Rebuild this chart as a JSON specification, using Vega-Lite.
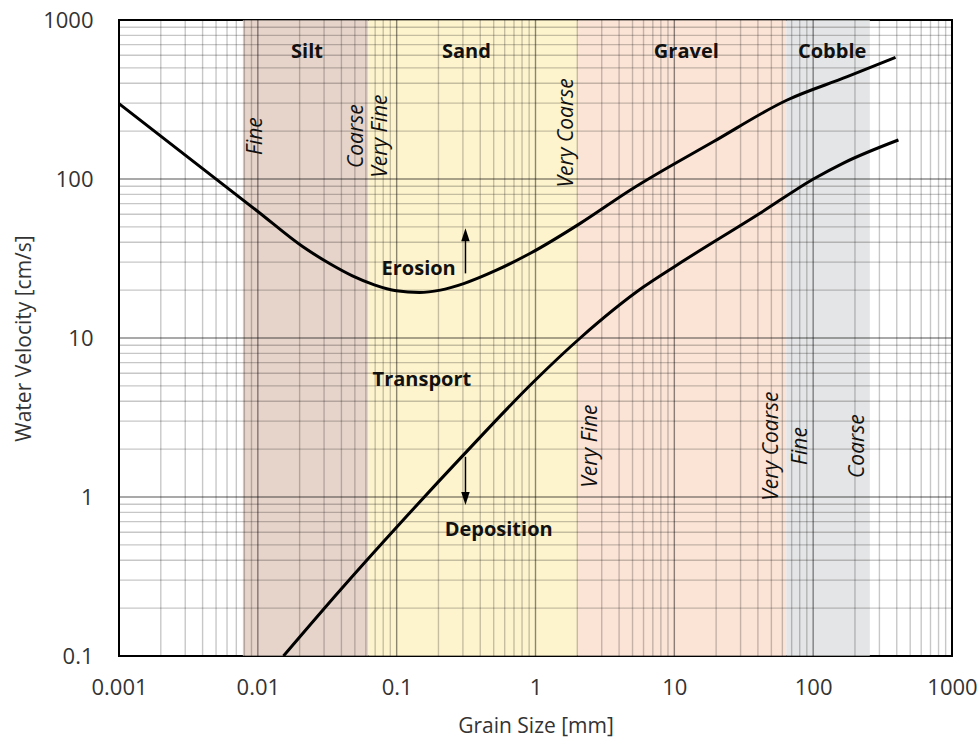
{
  "$schema": "https://vega.github.io/schema/vega-lite/v6.json",
  "width": 833,
  "height": 636,
  "autosize": {"type": "none"},
  "padding": {"left": 119, "top": 20, "right": 27, "bottom": 84},
  "background": "white",
  "config": {
    "font": "Open Sans",
    "view": {"stroke": "#000", "strokeWidth": 2},
    "axis": {
      "ticks": false,
      "domain": false,
      "grid": false,
      "labelOverlap": false,
      "labelFlush": false
    }
  },
  "datasets": {
    "bands": [
      {"name": "Silt", "x0": 0.0078, "x1": 0.0625},
      {"name": "Sand", "x0": 0.0625, "x1": 2},
      {"name": "Gravel", "x0": 2, "x1": 64},
      {"name": "Cobble", "x0": 64, "x1": 256}
    ],
    "xgrid": [
      {"g": 0.001, "kind": "major"}, {"g": 0.002, "kind": "minor"}, {"g": 0.003, "kind": "minor"}, {"g": 0.004, "kind": "minor"}, {"g": 0.005, "kind": "minor"}, {"g": 0.006, "kind": "minor"}, {"g": 0.007, "kind": "minor"}, {"g": 0.008, "kind": "minor"}, {"g": 0.009, "kind": "minor"},
      {"g": 0.01, "kind": "major"}, {"g": 0.02, "kind": "minor"}, {"g": 0.03, "kind": "minor"}, {"g": 0.04, "kind": "minor"}, {"g": 0.05, "kind": "minor"}, {"g": 0.06, "kind": "minor"}, {"g": 0.07, "kind": "minor"}, {"g": 0.08, "kind": "minor"}, {"g": 0.09, "kind": "minor"},
      {"g": 0.1, "kind": "major"}, {"g": 0.2, "kind": "minor"}, {"g": 0.3, "kind": "minor"}, {"g": 0.4, "kind": "minor"}, {"g": 0.5, "kind": "minor"}, {"g": 0.6, "kind": "minor"}, {"g": 0.7, "kind": "minor"}, {"g": 0.8, "kind": "minor"}, {"g": 0.9, "kind": "minor"},
      {"g": 1, "kind": "major"}, {"g": 2, "kind": "minor"}, {"g": 3, "kind": "minor"}, {"g": 4, "kind": "minor"}, {"g": 5, "kind": "minor"}, {"g": 6, "kind": "minor"}, {"g": 7, "kind": "minor"}, {"g": 8, "kind": "minor"}, {"g": 9, "kind": "minor"},
      {"g": 10, "kind": "major"}, {"g": 20, "kind": "minor"}, {"g": 30, "kind": "minor"}, {"g": 40, "kind": "minor"}, {"g": 50, "kind": "minor"}, {"g": 60, "kind": "minor"}, {"g": 70, "kind": "minor"}, {"g": 80, "kind": "minor"}, {"g": 90, "kind": "minor"},
      {"g": 100, "kind": "major"}, {"g": 200, "kind": "minor"}, {"g": 300, "kind": "minor"}, {"g": 400, "kind": "minor"}, {"g": 500, "kind": "minor"}, {"g": 600, "kind": "minor"}, {"g": 700, "kind": "minor"}, {"g": 800, "kind": "minor"}, {"g": 900, "kind": "minor"},
      {"g": 1000, "kind": "major"}
    ],
    "ygrid": [
      {"g": 0.1, "kind": "major"}, {"g": 0.2, "kind": "minor"}, {"g": 0.3, "kind": "minor"}, {"g": 0.4, "kind": "minor"}, {"g": 0.5, "kind": "minor"}, {"g": 0.6, "kind": "minor"}, {"g": 0.7, "kind": "minor"}, {"g": 0.8, "kind": "minor"}, {"g": 0.9, "kind": "minor"},
      {"g": 1, "kind": "major"}, {"g": 2, "kind": "minor"}, {"g": 3, "kind": "minor"}, {"g": 4, "kind": "minor"}, {"g": 5, "kind": "minor"}, {"g": 6, "kind": "minor"}, {"g": 7, "kind": "minor"}, {"g": 8, "kind": "minor"}, {"g": 9, "kind": "minor"},
      {"g": 10, "kind": "major"}, {"g": 20, "kind": "minor"}, {"g": 30, "kind": "minor"}, {"g": 40, "kind": "minor"}, {"g": 50, "kind": "minor"}, {"g": 60, "kind": "minor"}, {"g": 70, "kind": "minor"}, {"g": 80, "kind": "minor"}, {"g": 90, "kind": "minor"},
      {"g": 100, "kind": "major"}, {"g": 200, "kind": "minor"}, {"g": 300, "kind": "minor"}, {"g": 400, "kind": "minor"}, {"g": 500, "kind": "minor"}, {"g": 600, "kind": "minor"}, {"g": 700, "kind": "minor"}, {"g": 800, "kind": "minor"}, {"g": 900, "kind": "minor"},
      {"g": 1000, "kind": "major"}
    ],
    "curves": [
      {"curve": "Erosion", "size": 0.001, "v": 298},
      {"curve": "Erosion", "size": 0.01, "v": 62.5},
      {"curve": "Erosion", "size": 0.021, "v": 37.6},
      {"curve": "Erosion", "size": 0.0333, "v": 29.2},
      {"curve": "Erosion", "size": 0.048, "v": 24.6},
      {"curve": "Erosion", "size": 0.069, "v": 21.6},
      {"curve": "Erosion", "size": 0.0995, "v": 19.8},
      {"curve": "Erosion", "size": 0.146, "v": 19.3},
      {"curve": "Erosion", "size": 0.2065, "v": 20.0},
      {"curve": "Erosion", "size": 0.304, "v": 22.0},
      {"curve": "Erosion", "size": 0.528, "v": 26.8},
      {"curve": "Erosion", "size": 0.918, "v": 34.1},
      {"curve": "Erosion", "size": 2.1, "v": 52.6},
      {"curve": "Erosion", "size": 4.83, "v": 85.3},
      {"curve": "Erosion", "size": 19.2, "v": 172},
      {"curve": "Erosion", "size": 65, "v": 314},
      {"curve": "Erosion", "size": 176, "v": 440},
      {"curve": "Erosion", "size": 392, "v": 582},
      {"curve": "Deposition", "size": 0.0153, "v": 0.1},
      {"curve": "Deposition", "size": 0.0393, "v": 0.26},
      {"curve": "Deposition", "size": 0.1065, "v": 0.686},
      {"curve": "Deposition", "size": 0.303, "v": 1.84},
      {"curve": "Deposition", "size": 0.966, "v": 5.29},
      {"curve": "Deposition", "size": 2.1, "v": 10.0},
      {"curve": "Deposition", "size": 5.98, "v": 20.9},
      {"curve": "Deposition", "size": 10.2, "v": 28.4},
      {"curve": "Deposition", "size": 41.7, "v": 61.1},
      {"curve": "Deposition", "size": 100.5, "v": 100},
      {"curve": "Deposition", "size": 165, "v": 126},
      {"curve": "Deposition", "size": 411, "v": 176}
    ],
    "bandNames": [
      {"label": "Silt", "x": 0.0226, "y": 632},
      {"label": "Sand", "x": 0.318, "y": 632},
      {"label": "Gravel", "x": 12.2, "y": 632},
      {"label": "Cobble", "x": 137, "y": 632}
    ],
    "subLabels": [
      {"label": "Fine", "x": 0.0097, "y": 186},
      {"label": "Coarse", "x": 0.0515, "y": 186},
      {"label": "Very Fine", "x": 0.0773, "y": 186},
      {"label": "Very Coarse", "x": 1.7, "y": 195},
      {"label": "Very Fine", "x": 2.53, "y": 2.09},
      {"label": "Very Coarse", "x": 50.9, "y": 2.09},
      {"label": "Fine", "x": 82.4, "y": 2.09},
      {"label": "Coarse", "x": 209, "y": 2.09}
    ],
    "flowLabels": [
      {"label": "Erosion", "x": 0.144, "y": 27},
      {"label": "Transport", "x": 0.152, "y": 5.44},
      {"label": "Deposition", "x": 0.543, "y": 0.62}
    ],
    "arrowShafts": [
      {"x": 0.313, "y": 25.5, "y2": 44.6},
      {"x": 0.313, "y": 1.79, "y2": 0.978}
    ],
    "arrowHeads": [
      {"x": 0.313, "y": 44.6, "dir": "up"},
      {"x": 0.313, "y": 0.978, "dir": "down"}
    ]
  },
  "layer": [
    {
      "data": {"name": "bands"},
      "mark": {"type": "rect", "strokeWidth": 0},
      "encoding": {
        "x": {"field": "x0", "type": "quantitative", "scale": {"type": "log", "domain": [0.001, 1000], "nice": false}},
        "x2": {"field": "x1"},
        "color": {
          "field": "name",
          "type": "nominal",
          "scale": {"domain": ["Silt", "Sand", "Gravel", "Cobble"], "range": ["#e6d4ca", "#fdf3cd", "#fbe4d6", "#e4e5e6"]},
          "legend": null
        }
      }
    },
    {
      "data": {"name": "xgrid"},
      "mark": {"type": "rule", "color": "#000", "strokeWidth": 1.4},
      "encoding": {
        "x": {
          "field": "g",
          "type": "quantitative",
          "scale": {"type": "log", "domain": [0.001, 1000], "nice": false},
          "axis": {
            "title": "Grain Size [mm]",
            "values": [0.001, 0.01, 0.1, 1, 10, 100, 1000],
            "format": "~g",
            "labelFont": "Open Sans",
            "labelFontSize": 22,
            "labelColor": "#333",
            "titleFont": "Open Sans",
            "titleFontSize": 21,
            "titleFontWeight": "normal",
            "titleColor": "#333",
            "labelPadding": 21,
            "titlePadding": 17
          }
        },
        "opacity": {"field": "kind", "type": "nominal", "scale": {"domain": ["major", "minor"], "range": [0.45, 0.22]}, "legend": null}
      }
    },
    {
      "data": {"name": "ygrid"},
      "mark": {"type": "rule", "color": "#000", "strokeWidth": 1.4},
      "encoding": {
        "y": {
          "field": "g",
          "type": "quantitative",
          "scale": {"type": "log", "domain": [0.1, 1000], "nice": false},
          "axis": {
            "title": "Water Velocity [cm/s]",
            "values": [0.1, 1, 10, 100, 1000],
            "format": "~g",
            "labelFont": "Open Sans",
            "labelFontSize": 22,
            "labelColor": "#333",
            "titleFont": "Open Sans",
            "titleFontSize": 21,
            "titleFontWeight": "normal",
            "titleColor": "#333",
            "labelPadding": 26,
            "titlePadding": 8
          }
        },
        "opacity": {"field": "kind", "type": "nominal", "scale": {"domain": ["major", "minor"], "range": [0.45, 0.22]}, "legend": null}
      }
    },
    {
      "data": {"name": "curves"},
      "mark": {"type": "line", "color": "#000", "strokeWidth": 3, "interpolate": "monotone", "clip": true},
      "encoding": {
        "x": {"field": "size", "type": "quantitative", "scale": {"type": "log", "domain": [0.001, 1000], "nice": false}},
        "y": {"field": "v", "type": "quantitative", "scale": {"type": "log", "domain": [0.1, 1000], "nice": false}},
        "detail": {"field": "curve", "type": "nominal"}
      }
    },
    {
      "data": {"name": "bandNames"},
      "mark": {"type": "text", "font": "Open Sans", "fontSize": 20, "fontWeight": "bold", "color": "#111", "baseline": "middle", "align": "center"},
      "encoding": {
        "x": {"field": "x", "type": "quantitative", "scale": {"type": "log", "domain": [0.001, 1000], "nice": false}},
        "y": {"field": "y", "type": "quantitative", "scale": {"type": "log", "domain": [0.1, 1000], "nice": false}},
        "text": {"field": "label"}
      }
    },
    {
      "data": {"name": "subLabels"},
      "mark": {"type": "text", "font": "Open Sans", "fontSize": 21, "fontStyle": "italic", "color": "#111", "baseline": "middle", "align": "center", "angle": 270},
      "encoding": {
        "x": {"field": "x", "type": "quantitative", "scale": {"type": "log", "domain": [0.001, 1000], "nice": false}},
        "y": {"field": "y", "type": "quantitative", "scale": {"type": "log", "domain": [0.1, 1000], "nice": false}},
        "text": {"field": "label"}
      }
    },
    {
      "data": {"name": "flowLabels"},
      "mark": {"type": "text", "font": "Open Sans", "fontSize": 20, "fontWeight": "bold", "color": "#111", "baseline": "middle", "align": "center"},
      "encoding": {
        "x": {"field": "x", "type": "quantitative", "scale": {"type": "log", "domain": [0.001, 1000], "nice": false}},
        "y": {"field": "y", "type": "quantitative", "scale": {"type": "log", "domain": [0.1, 1000], "nice": false}},
        "text": {"field": "label"}
      }
    },
    {
      "data": {"name": "arrowShafts"},
      "mark": {"type": "rule", "color": "#000", "strokeWidth": 1.5},
      "encoding": {
        "x": {"field": "x", "type": "quantitative", "scale": {"type": "log", "domain": [0.001, 1000], "nice": false}},
        "y": {"field": "y", "type": "quantitative", "scale": {"type": "log", "domain": [0.1, 1000], "nice": false}},
        "y2": {"field": "y2"}
      }
    },
    {
      "data": {"name": "arrowHeads"},
      "mark": {"type": "point", "filled": true, "color": "#000", "opacity": 1, "size": 169},
      "encoding": {
        "x": {"field": "x", "type": "quantitative", "scale": {"type": "log", "domain": [0.001, 1000], "nice": false}},
        "y": {"field": "y", "type": "quantitative", "scale": {"type": "log", "domain": [0.1, 1000], "nice": false}},
        "shape": {
          "field": "dir",
          "type": "nominal",
          "scale": {"domain": ["up", "down"], "range": ["M0,-1L0.65,1L-0.65,1Z", "M0,1L0.65,-1L-0.65,-1Z"]},
          "legend": null
        }
      }
    }
  ]
}
